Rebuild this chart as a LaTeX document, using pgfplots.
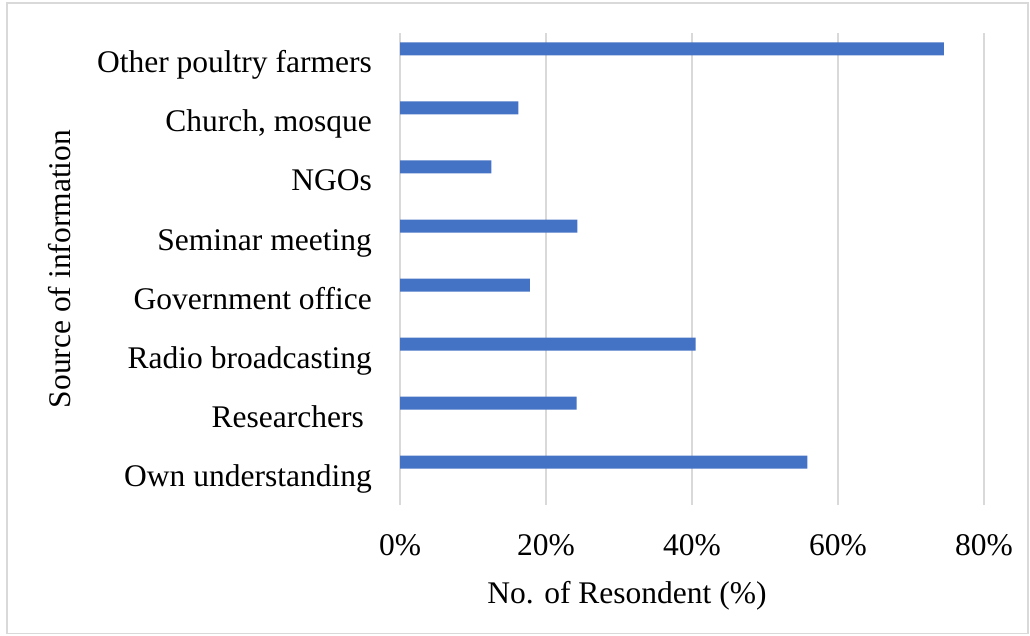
\documentclass[border=0pt]{standalone}
\usepackage{pgfplots}
\pgfplotsset{compat=1.18}
\usepackage{fontspec}
\setmainfont{Liberation Serif}
\definecolor{barblue}{HTML}{4472C4}
\definecolor{gridgray}{HTML}{D9D9D9}
\begin{document}
\begin{tikzpicture}
  \fontsize{31.5}{38}\selectfont
  % page size and outer frame
  \path[use as bounding box] (0pt,0pt) rectangle (1030pt,635pt);
  \draw[gridgray, line width=1.5pt] (7pt,1.5pt) rectangle (1028pt,632pt);
  \begin{axis}[
    at={(400pt,130pt)}, anchor=south west,
    scale only axis,
    width=584pt, height=472pt,
    xmin=0, xmax=80,
    ymin=0.5, ymax=8.5,
    xtick={0,20,40,60,80},
    xticklabels={0\%,20\%,40\%,60\%,80\%},
    ytick={1,2,3,4,5,6,7,8},
    yticklabels={Own understanding,Researchers\hspace*{8pt},Radio broadcasting,Government office,Seminar meeting,NGOs,{Church, mosque},Other poultry farmers},
    axis line style={draw=none},
    major tick length=0pt,
    xmajorgrids,
    grid style={gridgray, line width=1.6pt},
    tick label style={font=\fontsize{31.5}{38}\selectfont},
    label style={font=\fontsize{31.5}{38}\selectfont},
    xticklabel style={anchor=base, inner sep=0pt, yshift=-50.5pt},
    yticklabel style={anchor=base east, inner sep=0pt, xshift=-28pt, yshift=-10.5pt},
    xlabel={No. of Resondent (\%)},
    xlabel style={at={(axis description cs:0.3887,-0.2097)}, anchor=base, inner sep=0pt},
    ylabel={Source of information},
    ylabel style={at={(axis description cs:-0.5634,0.5)}, anchor=base, inner sep=0pt},
    clip=false,
  ]
    \addplot[xbar, fill=barblue, draw=none, bar width=13pt, bar shift=13.5pt] coordinates {
      (55.8,1)
      (24.2,2)
      (40.5,3)
      (17.8,4)
      (24.3,5)
      (12.5,6)
      (16.2,7)
      (74.5,8)
    };
  \end{axis}
\end{tikzpicture}
\end{document}
